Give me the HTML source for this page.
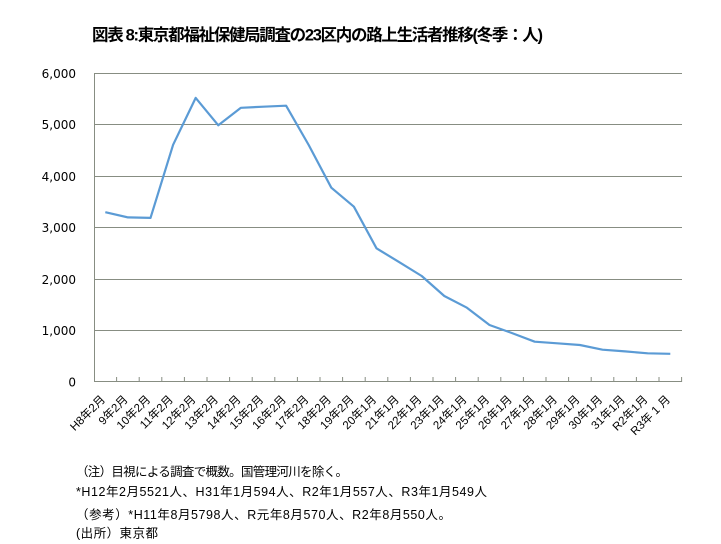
<!DOCTYPE html>
<html>
<head>
<meta charset="utf-8">
<style>
html,body{margin:0;padding:0;background:#fff;}
svg{display:block;}
.jp{font-family:"Liberation Sans","Noto Sans CJK JP",sans-serif;}
.num{font-family:"DejaVu Sans","Liberation Sans",sans-serif;}
</style>
</head>
<body>
<svg width="721" height="544" viewBox="0 0 721 544" xmlns="http://www.w3.org/2000/svg">
<rect width="721" height="544" fill="#fff"/>
<!-- title -->
<text class="jp" x="92" y="40.5" font-size="16.5" font-weight="bold" fill="#000" textLength="451" lengthAdjust="spacing">図表 8:東京都福祉保健局調査の23区内の路上生活者推移(冬季：人)</text>

<!-- gridlines -->
<g stroke="#878d82" stroke-width="1">
<line x1="94" y1="73.5" x2="682" y2="73.5"/>
<line x1="94" y1="124.5" x2="682" y2="124.5"/>
<line x1="94" y1="176.5" x2="682" y2="176.5"/>
<line x1="94" y1="227.5" x2="682" y2="227.5"/>
<line x1="94" y1="279.5" x2="682" y2="279.5"/>
<line x1="94" y1="330.5" x2="682" y2="330.5"/>
<line x1="94" y1="381.5" x2="682" y2="381.5"/>
<line x1="94.5" y1="73" x2="94.5" y2="382"/>
</g>
<!-- ticks -->
<g stroke="#878d82" stroke-width="1">
<line x1="116.6" y1="377" x2="116.6" y2="382"/>
<line x1="139.2" y1="377" x2="139.2" y2="382"/>
<line x1="161.8" y1="377" x2="161.8" y2="382"/>
<line x1="184.4" y1="377" x2="184.4" y2="382"/>
<line x1="207" y1="377" x2="207" y2="382"/>
<line x1="229.6" y1="377" x2="229.6" y2="382"/>
<line x1="252.2" y1="377" x2="252.2" y2="382"/>
<line x1="274.8" y1="377" x2="274.8" y2="382"/>
<line x1="297.4" y1="377" x2="297.4" y2="382"/>
<line x1="320" y1="377" x2="320" y2="382"/>
<line x1="342.6" y1="377" x2="342.6" y2="382"/>
<line x1="365.2" y1="377" x2="365.2" y2="382"/>
<line x1="387.8" y1="377" x2="387.8" y2="382"/>
<line x1="410.4" y1="377" x2="410.4" y2="382"/>
<line x1="433" y1="377" x2="433" y2="382"/>
<line x1="455.6" y1="377" x2="455.6" y2="382"/>
<line x1="478.2" y1="377" x2="478.2" y2="382"/>
<line x1="500.8" y1="377" x2="500.8" y2="382"/>
<line x1="523.4" y1="377" x2="523.4" y2="382"/>
<line x1="546" y1="377" x2="546" y2="382"/>
<line x1="568.6" y1="377" x2="568.6" y2="382"/>
<line x1="591.2" y1="377" x2="591.2" y2="382"/>
<line x1="613.8" y1="377" x2="613.8" y2="382"/>
<line x1="636.4" y1="377" x2="636.4" y2="382"/>
<line x1="659" y1="377" x2="659" y2="382"/>
<line x1="681.6" y1="377" x2="681.6" y2="382"/>
</g>

<!-- y labels -->
<g class="num" font-size="12" fill="#000" text-anchor="end">
<text x="76" y="78">6,000</text>
<text x="76" y="129">5,000</text>
<text x="76" y="181">4,000</text>
<text x="76" y="232">3,000</text>
<text x="76" y="284">2,000</text>
<text x="76" y="335">1,000</text>
<text x="76" y="386.5">0</text>
</g>

<!-- data line -->
<polyline fill="none" stroke="#5b9bd5" stroke-width="2.2" stroke-linejoin="round"
points="105.3,212.2 127.9,217.4 150.5,217.9 173.1,144.8 195.7,97.9 218.3,125.3 240.9,107.8 263.5,106.7 286.1,105.7 308.7,145.0 331.3,187.7 353.9,206.7 376.5,248.3 399.1,262.1 421.7,276.0 444.3,296.0 466.9,307.7 489.5,325.0 512.1,333.1 534.7,341.7 557.3,343.3 579.9,345.0 602.5,349.7 625.1,351.4 647.7,353.3 670.3,353.8"/>

<!-- x labels -->
<g class="jp" font-size="11.5" fill="#000" text-anchor="end" dominant-baseline="middle">
<text transform="translate(103.8,398) rotate(-45)">H8年2月</text>
<text transform="translate(126.4,398) rotate(-45)">9年2月</text>
<text transform="translate(149,398) rotate(-45)">10年2月</text>
<text transform="translate(171.6,398) rotate(-45)">11年2月</text>
<text transform="translate(194.2,398) rotate(-45)">12年2月</text>
<text transform="translate(216.8,398) rotate(-45)">13年2月</text>
<text transform="translate(239.4,398) rotate(-45)">14年2月</text>
<text transform="translate(262,398) rotate(-45)">15年2月</text>
<text transform="translate(284.6,398) rotate(-45)">16年2月</text>
<text transform="translate(307.2,398) rotate(-45)">17年2月</text>
<text transform="translate(329.8,398) rotate(-45)">18年2月</text>
<text transform="translate(352.4,398) rotate(-45)">19年2月</text>
<text transform="translate(375,398) rotate(-45)">20年1月</text>
<text transform="translate(397.6,398) rotate(-45)">21年1月</text>
<text transform="translate(420.2,398) rotate(-45)">22年1月</text>
<text transform="translate(442.8,398) rotate(-45)">23年1月</text>
<text transform="translate(465.4,398) rotate(-45)">24年1月</text>
<text transform="translate(488,398) rotate(-45)">25年1月</text>
<text transform="translate(510.6,398) rotate(-45)">26年1月</text>
<text transform="translate(533.2,398) rotate(-45)">27年1月</text>
<text transform="translate(555.8,398) rotate(-45)">28年1月</text>
<text transform="translate(578.4,398) rotate(-45)">29年1月</text>
<text transform="translate(601,398) rotate(-45)">30年1月</text>
<text transform="translate(623.6,398) rotate(-45)">31年1月</text>
<text transform="translate(646.2,398) rotate(-45)">R2年1月</text>
<text transform="translate(668.8,398) rotate(-45)">R3年 1 月</text>
</g>

<!-- notes -->
<g class="jp" font-size="12.5" fill="#000">
<text x="76" y="476" textLength="272" lengthAdjust="spacing">（注）目視による調査で概数。国管理河川を除く。</text>
<text x="76" y="496" textLength="411" lengthAdjust="spacing">*H12年2月5521人、H31年1月594人、R2年1月557人、R3年1月549人</text>
<text x="76" y="519" textLength="375" lengthAdjust="spacing">（参考）*H11年8月5798人、R元年8月570人、R2年8月550人。</text>
<text x="76" y="537.5" textLength="82" lengthAdjust="spacing">(出所）東京都</text>
</g>
</svg>
</body>
</html>
